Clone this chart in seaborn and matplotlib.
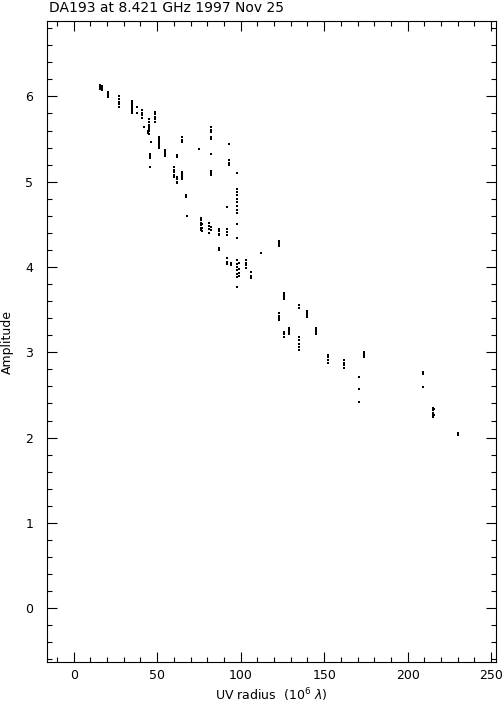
import matplotlib
matplotlib.use("Agg")
import matplotlib.pyplot as plt
import seaborn as sns
import pandas as pd
from matplotlib.ticker import MultipleLocator

# visibility points: uv radius (10^6 lambda) and amplitude
uv = [15.6, 15.6, 15.6, 17, 17, 17,
      20.4, 20.4, 20.4, 20.4,
      27, 27, 27, 27, 27,
      35, 35, 35, 35, 35, 35, 35, 35,
      38, 38,
      41, 41, 41, 41, 42,
      45, 45, 45, 45, 45, 45, 45, 44.5, 44.5,
      48.6, 48.6, 48.6, 48.6, 48.6, 46,
      51, 51, 51, 51, 51, 51, 51,
      54.6, 54.6, 54.6, 54.6,
      45.5, 45.5, 45.5, 45.5,
      60, 60, 60, 60, 60,
      62, 62, 62, 62, 62, 62,
      65, 65, 65, 65, 65, 65, 65, 65,
      67, 67, 68, 75,
      76, 76, 76, 76, 76, 76, 77, 77, 77,
      81, 81, 81, 81,
      82, 82, 82, 82, 82, 82, 82, 82, 82, 82, 82,
      87, 87, 87, 87, 87, 87,
      92, 92, 92, 92, 92, 92, 92,
      93, 93, 93, 93, 94, 94,
      98, 98, 98, 98, 98, 98, 98, 98, 98, 98, 98, 98, 98, 98, 98, 98, 98, 98,
      99, 99, 99, 99,
      103, 103, 103, 103,
      106, 106, 106, 112,
      123, 123, 123, 123, 123, 123, 123, 123,
      126, 126, 126, 126, 126, 126, 126, 126,
      129, 129, 129, 129,
      135, 135, 135, 135, 135, 135, 135,
      140, 140, 140, 140, 140,
      145, 145, 145, 145, 145,
      152, 152, 152, 152,
      162, 162, 162, 162,
      171, 171, 171,
      174, 174, 174, 174,
      209, 209, 209,
      215, 215, 215, 215, 215, 216, 216,
      230, 230]
amp = [6.13, 6.11, 6.09, 6.12, 6.10, 6.08,
       6.05, 6.03, 6.01, 5.99,
       6.00, 5.97, 5.94, 5.91, 5.88,
       5.95, 5.93, 5.91, 5.89, 5.87, 5.85, 5.83, 5.81,
       5.88, 5.80,
       5.84, 5.81, 5.78, 5.75, 5.64,
       5.73, 5.70, 5.67, 5.64, 5.62, 5.59, 5.56, 5.60, 5.57,
       5.82, 5.79, 5.76, 5.73, 5.70, 5.46,
       5.52, 5.50, 5.48, 5.46, 5.44, 5.42, 5.40,
       5.37, 5.35, 5.33, 5.30,
       5.33, 5.30, 5.28, 5.17,
       5.17, 5.14, 5.11, 5.08, 5.05,
       5.31, 5.29, 5.05, 5.03, 5.00, 4.98,
       5.52, 5.49, 5.46, 5.11, 5.09, 5.07, 5.05, 5.03,
       4.84, 4.82, 4.60, 5.38,
       4.57, 4.55, 4.52, 4.49, 4.46, 4.43, 4.50, 4.46, 4.42,
       4.52, 4.48, 4.44, 4.40,
       5.64, 5.61, 5.58, 5.52, 5.50, 5.33, 5.13, 5.10, 5.08, 4.47, 4.43,
       4.45, 4.42, 4.39, 4.37, 4.22, 4.20,
       4.70, 4.44, 4.41, 4.38, 4.10, 4.06, 4.03,
       5.44, 5.25, 5.22, 5.19, 4.05, 4.02,
       5.10, 4.92, 4.88, 4.84, 4.80, 4.76, 4.71, 4.67, 4.63, 4.51, 4.34,
       4.08, 4.04, 4.00, 3.96, 3.92, 3.88, 3.76,
       4.05, 3.98, 3.93, 3.90,
       4.08, 4.05, 4.02, 3.99,
       3.94, 3.90, 3.87, 4.17,
       4.31, 4.29, 4.27, 4.25, 3.46, 3.43, 3.40, 3.38,
       3.70, 3.68, 3.66, 3.64, 3.62, 3.24, 3.21, 3.18,
       3.28, 3.26, 3.24, 3.22,
       3.55, 3.52, 3.18, 3.14, 3.10, 3.06, 3.03,
       3.49, 3.47, 3.45, 3.43, 3.41,
       3.29, 3.27, 3.25, 3.23, 3.21,
       2.97, 2.94, 2.91, 2.88,
       2.91, 2.88, 2.85, 2.82,
       2.71, 2.57, 2.42,
       3.00, 2.98, 2.96, 2.94,
       2.77, 2.75, 2.59,
       2.35, 2.32, 2.29, 2.26, 2.24, 2.33, 2.27,
       2.05, 2.03]

df = pd.DataFrame({"uv": uv, "amp": amp})

sns.set_style("ticks")
plt.rcParams['font.family'] = ['DejaVu Sans']
plt.rcParams['text.color'] = 'black'
plt.rcParams['axes.labelcolor'] = 'black'

fig = plt.figure(figsize=(5.03, 7.04), dpi=100)
ax = fig.add_axes([0.0934, 0.0597, 0.893, 0.910])

# tiny square dots, like the pgplot points
sns.scatterplot(data=df, x="uv", y="amp", marker="s", s=0.6, color="black",
                linewidth=0, ax=ax)

ax.set_xlim(-16, 253)
ax.set_ylim(-0.63, 6.88)
ax.xaxis.set_major_locator(MultipleLocator(50))
ax.xaxis.set_minor_locator(MultipleLocator(10))
ax.yaxis.set_major_locator(MultipleLocator(1))
ax.yaxis.set_minor_locator(MultipleLocator(0.2))
ax.tick_params(which="both", direction="in", top=True, right=True,
               width=0.8, labelsize=9, colors="black")
ax.tick_params(which="major", length=7)
ax.tick_params(which="minor", length=3.5)
ax.tick_params(axis="y", which="major", pad=10)
ax.tick_params(axis="x", which="major", pad=5)
for s in ax.spines.values():
    s.set_linewidth(0.8)
    s.set_color("black")

ax.set_xlabel(r"UV radius  (10$^6$ $\lambda$)", fontsize=9, labelpad=3)
ax.set_ylabel("Amplitude", fontsize=9, labelpad=8)
fig.text(0.097, 0.999, "DA193 at 8.421 GHz 1997 Nov 25", fontsize=10,
         ha="left", va="top")

fig.savefig("out.png", dpi=100)
